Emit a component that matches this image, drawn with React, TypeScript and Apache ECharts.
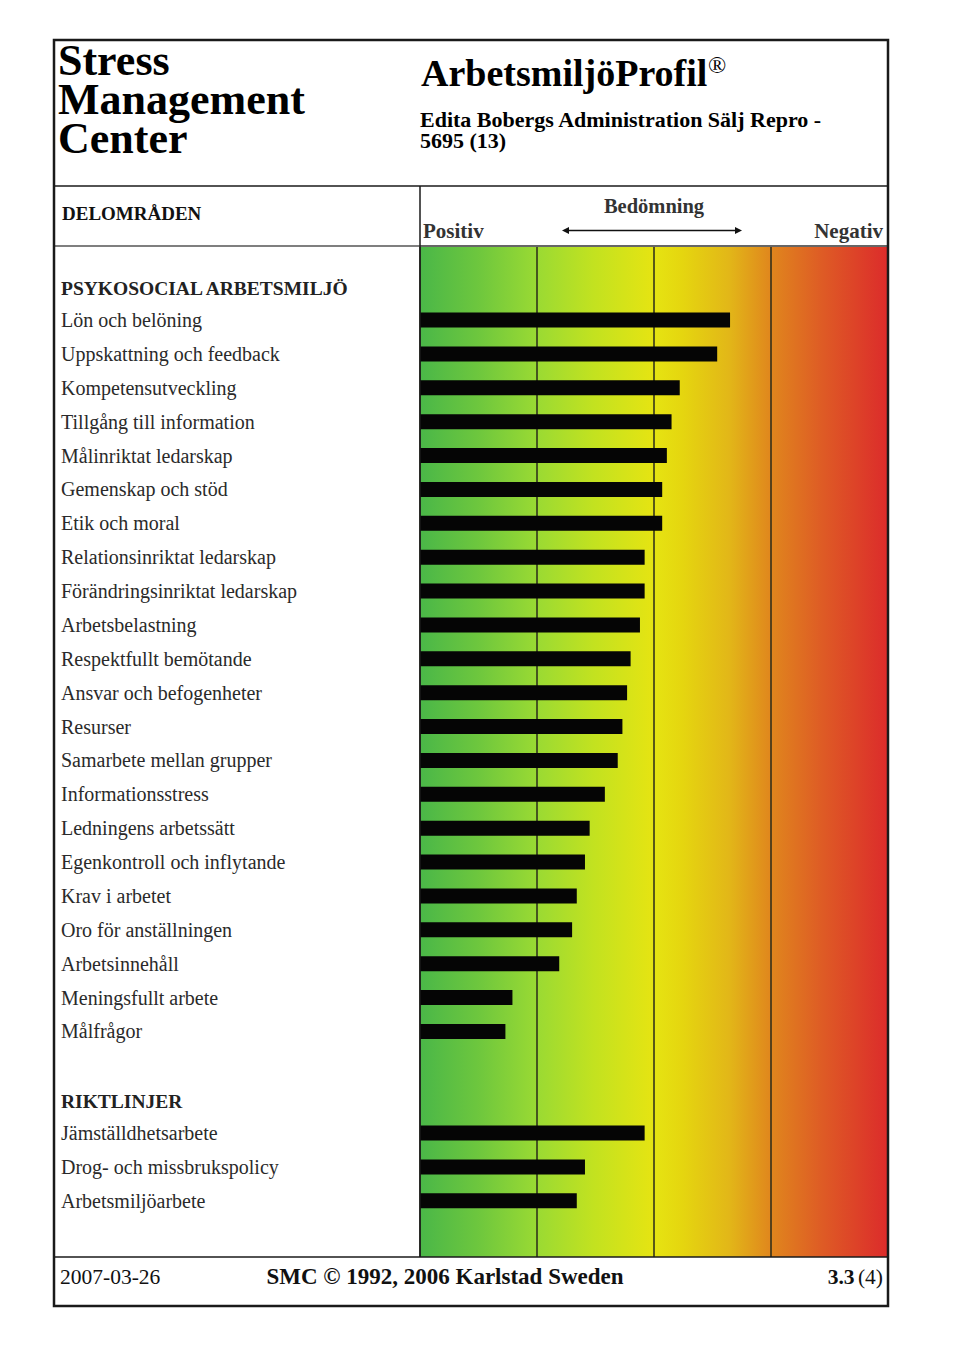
import React, { useEffect, useRef } from "react";
import * as echarts from "echarts";

// ---- data ----
const categories = [
  "PSYKOSOCIAL ARBETSMILJÖ",
  "Lön och belöning",
  "Uppskattning och feedback",
  "Kompetensutveckling",
  "Tillgång till information",
  "Målinriktat ledarskap",
  "Gemenskap och stöd",
  "Etik och moral",
  "Relationsinriktat ledarskap",
  "Förändringsinriktat ledarskap",
  "Arbetsbelastning",
  "Respektfullt bemötande",
  "Ansvar och befogenheter",
  "Resurser",
  "Samarbete mellan grupper",
  "Informationsstress",
  "Ledningens arbetssätt",
  "Egenkontroll och inflytande",
  "Krav i arbetet",
  "Oro för anställningen",
  "Arbetsinnehåll",
  "Meningsfullt arbete",
  "Målfrågor",
  "",
  "RIKTLINJER",
  "Jämställdhetsarbete",
  "Drog- och missbrukspolicy",
  "Arbetsmiljöarbete",
];
const scores: (number | null)[] = [
  null, 2.65, 2.54, 2.22, 2.15, 2.11, 2.07, 2.07, 1.92, 1.92, 1.88, 1.8, 1.77,
  1.73, 1.69, 1.58, 1.45, 1.41, 1.34, 1.3, 1.19, 0.79, 0.73, null, null, 1.92,
  1.41, 1.34,
];
const headerRows = ["PSYKOSOCIAL ARBETSMILJÖ", "RIKTLINJER"];
const scaleMin = 0;
const scaleMax = 4;
const scaleStep = 1;

const SERIF = '"Liberation Serif", "Times New Roman", serif';

function text(
  x: number,
  y: number,
  t: string,
  size: number,
  bold: boolean,
  align = "left",
  fill = "#111",
  lineHeight?: number
) {
  const style: any = {
    text: t,
    fontFamily: SERIF,
    fontSize: size,
    fontWeight: bold ? "bold" : "normal",
    fill,
    align,
    verticalAlign: "middle",
  };
  if (lineHeight) style.lineHeight = lineHeight;
  return { type: "text", x, y, silent: true, style };
}

function hline(x1: number, x2: number, y: number, w = 1.5, c = "#1a1a1a") {
  return { type: "line", silent: true, shape: { x1, y1: y, x2, y2: y }, style: { stroke: c, lineWidth: w }, z: 10 };
}
function vline(x: number, y1: number, y2: number, w = 1.5, c = "#1a1a1a") {
  return { type: "line", silent: true, shape: { x1: x, y1, x2: x, y2 }, style: { stroke: c, lineWidth: w }, z: 10 };
}

export default function App() {
  const ref = useRef<HTMLDivElement>(null);
  useEffect(() => {
    if (!ref.current) return;
    const chart = echarts.init(ref.current, null, { renderer: "svg" });
    const gradient = new echarts.graphic.LinearGradient(0, 0, 1, 0, [
      { offset: 0, color: "#4ab748" },
      { offset: 0.12, color: "#6cc63e" },
      { offset: 0.25, color: "#9ada33" },
      { offset: 0.37, color: "#c2e220" },
      { offset: 0.5, color: "#e6e412" },
      { offset: 0.56, color: "#e5d60f" },
      { offset: 0.66, color: "#e2b718" },
      { offset: 0.75, color: "#e0861d" },
      { offset: 0.86, color: "#de5b25" },
      { offset: 1, color: "#dc2b2b" },
    ]);
    const option: any = {
      animation: false,
      backgroundColor: "#ffffff",
      grid: [
        { left: 420, top: 247, width: 468, height: 1010, show: true, backgroundColor: gradient, borderWidth: 0 },
        { left: 420, top: 269.2, width: 468, height: 948.6 },
      ],
      xAxis: [
        {
          gridIndex: 0,
          type: "value",
          min: scaleMin,
          max: scaleMax,
          interval: scaleStep,
          axisLine: { show: false },
          axisTick: { show: false },
          axisLabel: { show: false },
          splitLine: { show: true, lineStyle: { color: "#2a2a1a", width: 1.5 } },
        },
        {
          gridIndex: 1,
          type: "value",
          min: scaleMin,
          max: scaleMax,
          interval: scaleStep,
          axisLine: { show: false },
          axisTick: { show: false },
          axisLabel: { show: false },
          splitLine: { show: false },
        },
      ],
      yAxis: [
        {
          gridIndex: 0,
          type: "value",
          min: 0,
          max: 1,
          show: false,
          splitLine: { show: false },
        },
        {
          gridIndex: 1,
          type: "category",
          inverse: true,
          data: categories,
          axisLine: { show: false },
          axisTick: { show: false },
          splitLine: { show: false },
          axisLabel: {
            interval: 0,
            margin: 359,
            align: "left",
            fontFamily: SERIF,
            fontSize: 20,
            color: "#2a2a2a",
            formatter: (v: string) => (headerRows.includes(v) ? `{h|${v}}` : v),
            rich: {
              h: { fontFamily: SERIF, fontSize: 19.5, fontWeight: "bold", color: "#222", padding: [4, 0, 0, 0] },
            },
          },
        },
      ],
      series: [
        {
          type: "bar",
          xAxisIndex: 1,
          yAxisIndex: 1,
          data: scores,
          barWidth: 15,
          itemStyle: { color: "#050505" },
          z: 5,
        },
      ],
      graphic: [
        // frame
        {
          type: "rect",
          silent: true,
          shape: { x: 54, y: 40, width: 834, height: 1266 },
          style: { fill: "none", stroke: "#1a1a1a", lineWidth: 2.5 },
          z: 20,
        },
        hline(54, 888, 186),
        hline(54, 420, 246, 1.5, "#555"),
        hline(420, 888, 246, 1.5, "#333"),
        hline(54, 888, 1257),
        vline(420, 186, 1257),
        // title block
        text(58, 99, "Stress\nManagement\nCenter", 44, true, "left", "#000", 39),
        text(421, 73, "ArbetsmiljöProfil", 38, true, "left", "#000"),
        text(708, 65, "®", 24, false, "left", "#000"),
        text(420, 129.5, "Edita Bobergs Administration Sälj Repro -\n5695 (13)", 22, true, "left", "#000", 21),
        // column headers
        text(62, 213.5, "DELOMRÅDEN", 19, true, "left", "#111"),
        text(654, 206, "Bedömning", 20.5, true, "center", "#333"),
        text(423, 231, "Positiv", 21, true, "left", "#333"),
        text(883, 231, "Negativ", 21, true, "right", "#333"),
        { type: "line", silent: true, shape: { x1: 566, y1: 230.5, x2: 738, y2: 230.5 }, style: { stroke: "#111", lineWidth: 1.5 } },
        { type: "polygon", silent: true, shape: { points: [[562, 230.5], [569, 227], [569, 234]] }, style: { fill: "#111" } },
        { type: "polygon", silent: true, shape: { points: [[742, 230.5], [735, 227], [735, 234]] }, style: { fill: "#111" } },
        // footer
        text(60, 1276.5, "2007-03-26", 21.5, false, "left", "#111"),
        text(445, 1276.5, "SMC © 1992, 2006 Karlstad Sweden", 23, true, "center", "#111"),
        {
          type: "text",
          x: 883,
          y: 1276.5,
          silent: true,
          style: {
            text: "{b|3.3} {n|(4)}",
            align: "right",
            verticalAlign: "middle",
            rich: {
              b: { fontFamily: SERIF, fontSize: 21.5, fontWeight: "bold", fill: "#111" },
              n: { fontFamily: SERIF, fontSize: 21.5, fontWeight: "normal", fill: "#111" },
            },
          },
        },
      ],
    };
    chart.setOption(option);
    return () => chart.dispose();
  }, []);
  return (
    <div
      ref={ref}
      style={{ position: "absolute", left: 0, top: 0, width: 960, height: 1358, background: "#fff" }}
    />
  );
}
